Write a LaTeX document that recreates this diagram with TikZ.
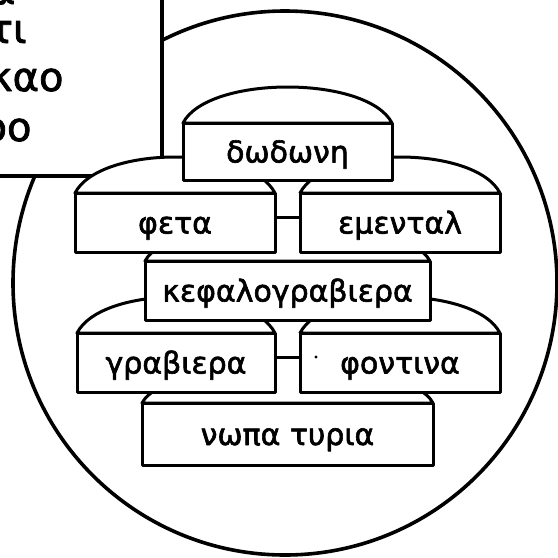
\documentclass[tikz,border=0pt]{standalone}
\usepackage{fontspec}
\setmainfont{DejaVu Sans}
\newfontfamily\labelfont{DejaVu Sans}[FakeBold=2]
\usetikzlibrary{calc}

\begin{document}
\begin{tikzpicture}[x=1pt,y=-1pt,line width=3pt,line join=round,
    cheese/.style={draw,fill=white,inner sep=0pt,outer sep=0pt,text height=28pt,text depth=6pt,
      font=\labelfont\fontsize{30}{36}\selectfont},
    dome/.style={draw,fill=white},
    notetext/.style={anchor=base east,inner sep=0pt,font=\labelfont\fontsize{40}{48}\selectfont}]
          \useasboundingbox (0,0) rectangle (558,558);
          \clip (0,0) rectangle (558,558);
          \draw[line width=3.6pt] (285,283) circle (272pt);
          % note box in the corner
          \draw[line width=3.4pt,fill=white] (-10,-10) rectangle (162,176);
          \node[notetext] (line1) at (17,4) {α};
          \node[notetext] (line2) at (28,43) {τι};
          \node[notetext] (line3) at (65,91) {καο};
          \node[notetext] (line4) at (33,141) {οο};
          % bottom row
          \node[cheese,minimum width=291pt,minimum height=62pt] (nopa) at (287.5,434) {νωπα τυρια};
          \draw[dome] (nopa.north west) .. controls +(25,-48) and +(-25,-48) .. (nopa.north east) -- cycle;
          \node[cheese,minimum width=198pt,minimum height=59pt] (graviera) at (176,362.5) {γραβιερα};
          \node[cheese,minimum width=200pt,minimum height=59pt] (fontina) at (400,362.5) {φοντινα};
          \foreach \c in {graviera,fontina}
            \draw[dome] (\c.north west) .. controls +(25,-48) and +(-25,-48) .. (\c.north east) -- cycle;
          \fill[white] (graviera.north east) rectangle (fontina.south west);
          \draw (graviera.north east) -- (graviera.south east);
          \draw (fontina.north west) -- (fontina.south west);
          \draw ([yshift=5pt]graviera.east) -- ([yshift=5pt]fontina.west);
          \fill (316,357) circle (1.6pt);
          % middle
          \node[cheese,minimum width=285pt,minimum height=59pt] (kefalo) at (287.5,290.5) {κεφαλογραβιερα};
          \draw[dome] (kefalo.north west) .. controls +(25,-48) and +(-25,-48) .. (kefalo.north east) -- cycle;
          \node[cheese,minimum width=200pt,minimum height=59pt] (feta) at (175,222.5) {φετα};
          \node[cheese,minimum width=200pt,minimum height=59pt] (emmental) at (400,222.5) {εμενταλ};
          \foreach \c in {feta,emmental}
            \draw[dome] (\c.north west) .. controls +(25,-48) and +(-25,-48) .. (\c.north east) -- cycle;
          \fill[white] (feta.north east) rectangle (emmental.south west);
          \draw (feta.north east) -- (feta.south east);
          \draw (emmental.north west) -- (emmental.south west);
          \draw ([yshift=5pt]feta.east) -- ([yshift=5pt]emmental.west);
          % top
          \node[cheese,minimum width=209pt,minimum height=57pt] (dodoni) at (287.5,151.5) {δωδωνη};
          \draw[dome] (dodoni.north west) .. controls +(25,-48) and +(-25,-48) .. (dodoni.north east) -- cycle;
        \end{tikzpicture}
\end{document}
